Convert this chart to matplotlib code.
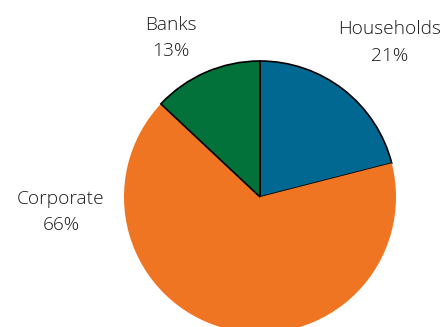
import matplotlib
matplotlib.use("Agg")
import matplotlib.pyplot as plt

# Sector shares (per cent)
sectors = ["Households", "Corporate", "Banks"]
shares = [21, 66, 13]
colors = ["#006891", "#F07522", "#03723A"]

# Label anchor points in data units (pie radius = 1)
label_x = [0.956, -1.463, -0.654]
label_y = [1.136, -0.11, 1.169]

plt.rcParams["font.family"] = ["Open Sans", "DejaVu Sans"]

W, H = 445, 327
fig = plt.figure(figsize=(W / 100, H / 100), dpi=100)
cx, cy, r = 260, 197, 136
ax = fig.add_axes([(cx - r) / W, (H - cy - r) / H, 2 * r / W, 2 * r / H])

wedges, _ = ax.pie(shares, colors=colors, startangle=90, counterclock=False,
                   radius=1, wedgeprops=dict(edgecolor="black", linewidth=1.2))
# Corporate slice has no outline
wedges[1].set_edgecolor("none")
for w in wedges:
    w.set_clip_on(False)

for name, val, x, y in zip(sectors, shares, label_x, label_y):
    ax.text(x, y, f"{name}\n{val}%", ha="center", va="center",
            fontsize=13.8, color="#1a1a1a", linespacing=1.6,
            fontweight="light")

ax.set_xlim(-1, 1)
ax.set_ylim(-1, 1)
ax.set_aspect("equal")
ax.axis("off")

fig.savefig("out.png", dpi=100)
